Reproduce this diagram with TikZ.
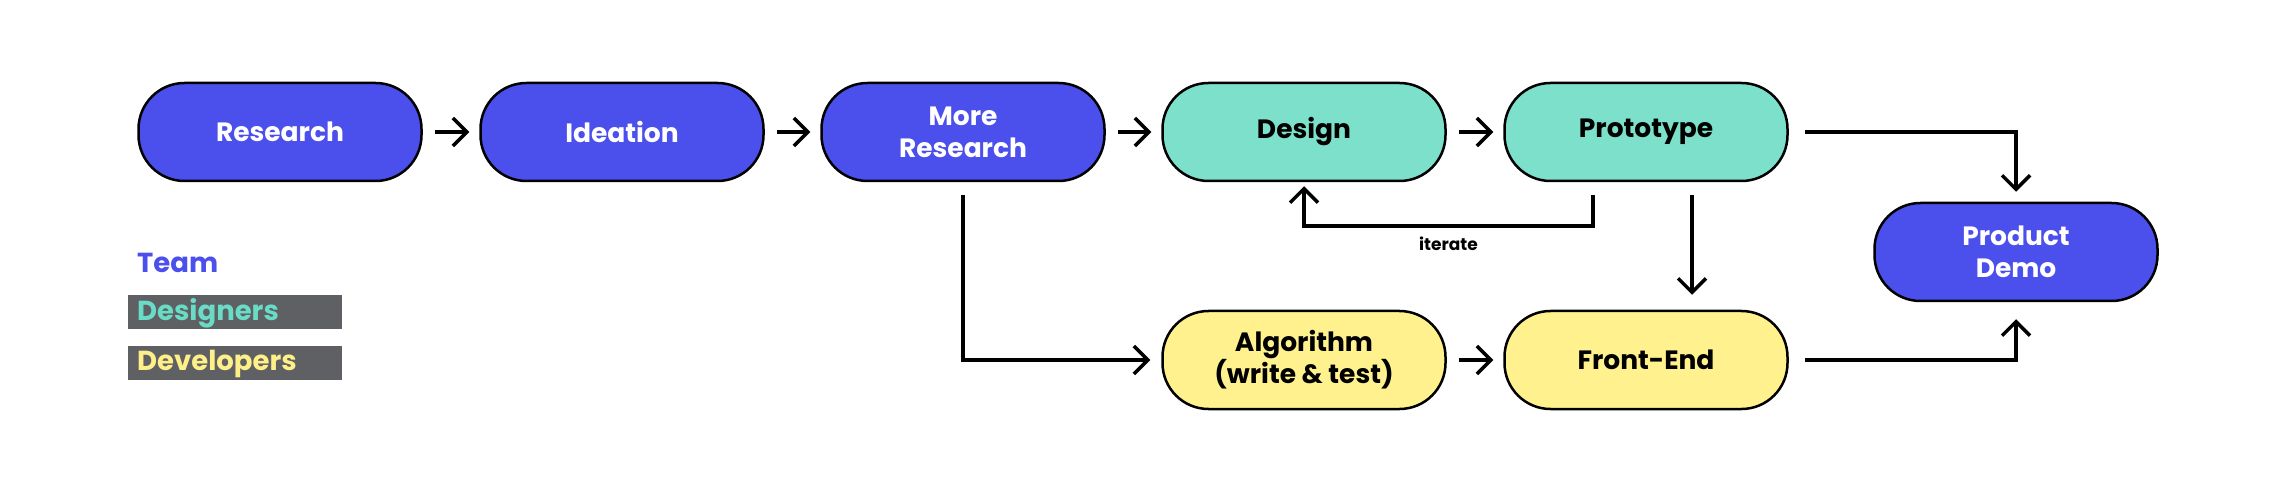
\documentclass[tikz,border=0pt]{standalone}
\usepackage{fontspec}
\setmainfont{Poppins}
\usetikzlibrary{arrows.meta,calc}
\definecolor{tblue}{HTML}{4B4FEB}
\definecolor{tteal}{HTML}{7CE0CB}
\definecolor{tyellow}{HTML}{FFF28E}
\definecolor{lgray}{HTML}{5E6064}
\definecolor{lteal}{HTML}{6ADCC6}
\definecolor{lyellow}{HTML}{FFEF88}
\tikzset{
  box/.style={draw=black, line width=2.5pt, rounded corners=46pt, minimum width=283pt, minimum height=98pt, align=center, inner sep=0pt, font=\fontsize{26.5}{32}\selectfont\bfseries},
  bluebox/.style={box, fill=tblue, text=white},
  tealbox/.style={box, fill=tteal, text=black},
  yellowbox/.style={box, fill=tyellow, text=black},
  conn/.style={line width=3.5pt, -{Straight Barb[length=14pt,width=28pt]}},
  legbar/.style={fill=lgray, minimum width=214pt, minimum height=34pt, inner sep=0pt},
  legtext/.style={font=\fontsize{27.5}{32}\selectfont\bfseries, anchor=west, inner sep=0pt},
}
\begin{document}
\begin{tikzpicture}[x=1pt,y=-1pt]
\useasboundingbox (0,0) rectangle (2289,494);
% nodes
\node[bluebox] (res) at (280,132) {Research};
\node[bluebox] (ide) at (622,132) {Ideation};
\node[bluebox] (mr) at (963,132) {More\\Research};
\node[tealbox] (des) at (1304,132) {Design};
\node[tealbox] (pro) at (1646,132) {Prototype};
\node[bluebox] (pd) at (2016,252) {Product\\Demo};
\node[yellowbox] (alg) at (1304,360) {Algorithm\\(write \& test)};
\node[yellowbox] (fe) at (1646,360) {Front-End};
% legend
\node[legtext, text=tblue] (team) at (137,263) {Team};
\node[legbar] (dbar) at (235,312) {};
\node[legtext, text=lteal] (dtext) at (137,313) {Designers};
\node[legbar] (vbar) at (235,363) {};
\node[legtext, text=lyellow] (vtext) at (137,364) {Developers};
% connectors
\draw[conn, shorten <=12pt, shorten >=10pt] (res) -- (ide);
\draw[conn, shorten <=12pt, shorten >=10pt] (ide) -- (mr);
\draw[conn, shorten <=12pt, shorten >=10pt] (mr) -- (des);
\draw[conn, shorten <=12pt, shorten >=10pt] (des) -- (pro);
\draw[conn, shorten <=12pt, shorten >=10pt] (alg) -- (fe);
\coordinate (it) at (1593,226);
\draw[conn, shorten <=13pt, shorten >=4pt] (pro.south -| it) -- (it) -| node[pos=0.25, below=6pt, font=\fontsize{17}{19}\selectfont\bfseries] (itl) {iterate} (des.south);
\coordinate (pf) at (1692,0);
\draw[conn, shorten <=13pt, shorten >=15pt] (pro.south -| pf) -- (fe.north -| pf);
\draw[conn, shorten <=13pt, shorten >=11pt] (mr.south) |- (alg.west);
\draw[conn, shorten <=16pt, shorten >=10pt] (pro.east) -| (pd.north);
\draw[conn, shorten <=16pt, shorten >=17pt] (fe.east) -| (pd.south);
\end{tikzpicture}
\end{document}
